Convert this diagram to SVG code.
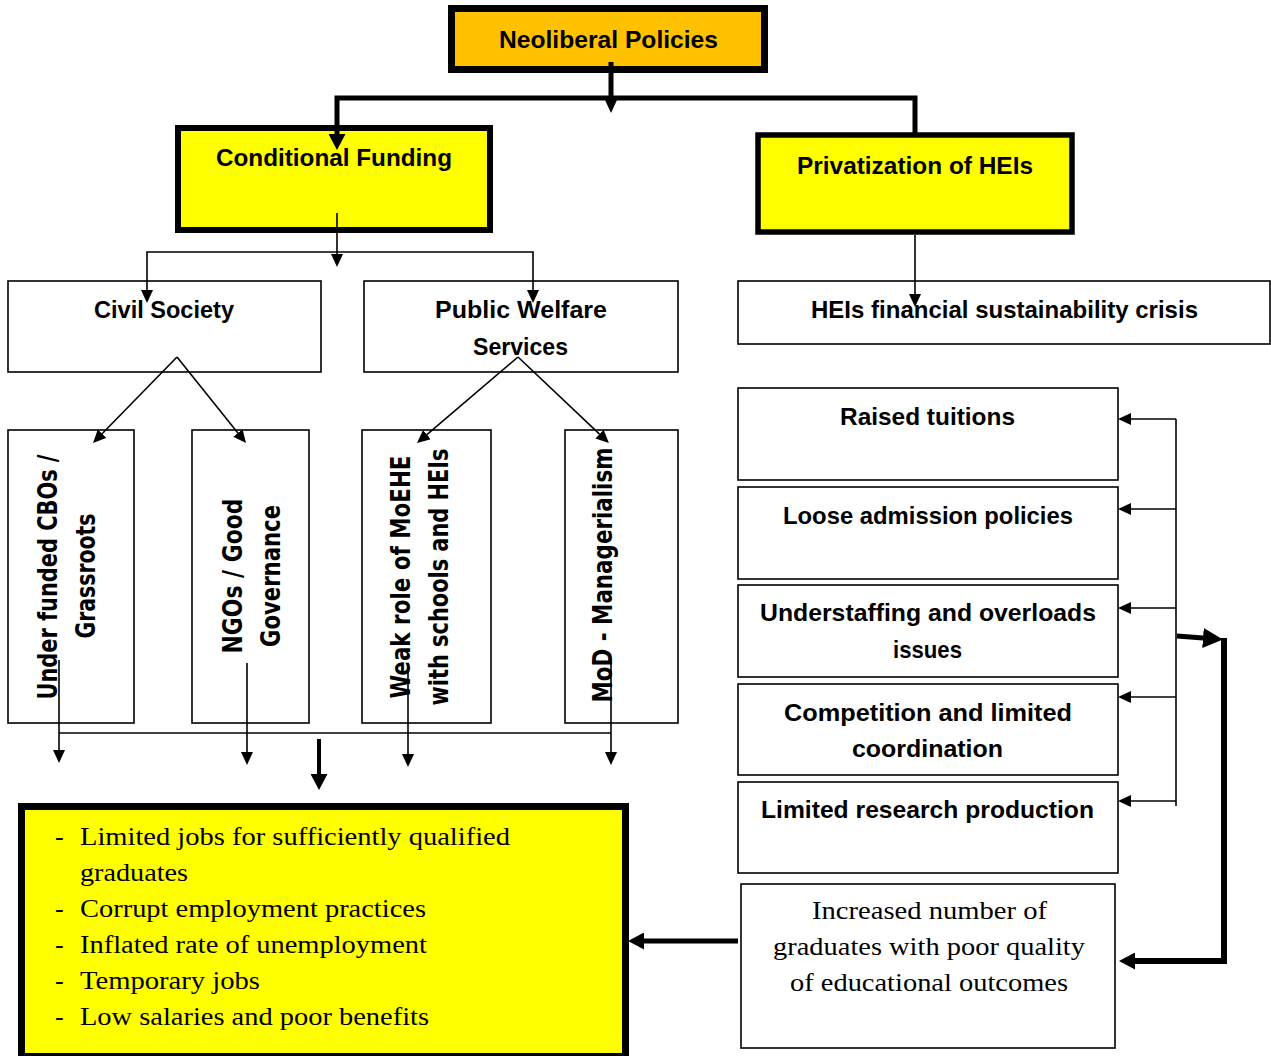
<svg xmlns="http://www.w3.org/2000/svg" width="1271" height="1056" viewBox="0 0 1271 1056">
<style>
.thin{fill:#fff;stroke:#000;stroke-width:1.6}
.y{fill:#ffff00;stroke:#000}
.h{font-family:"Liberation Sans",Arial,sans-serif;font-weight:bold;font-size:24px;fill:#000;text-anchor:middle}
.v{font-family:"DejaVu Sans",Verdana,sans-serif;font-weight:bold;font-size:26px;fill:#000;text-anchor:middle}
.s{font-family:"Liberation Serif","Times New Roman",serif;font-size:26px;fill:#000}
.sc{text-anchor:middle}
.c{fill:none;stroke:#000;stroke-linejoin:miter}
.c1{stroke-width:1.6}
.c5{stroke-width:5}
</style>
<defs>
<marker id="aS" markerUnits="userSpaceOnUse" markerWidth="13" markerHeight="12" refX="0" refY="6" orient="auto"><path d="M0,0 L13,6 L0,12 z" fill="#000"/></marker>
<marker id="aM" markerUnits="userSpaceOnUse" markerWidth="16" markerHeight="17" refX="0" refY="8.5" orient="auto"><path d="M0,0 L16,8.5 L0,17 z" fill="#000"/></marker>
<marker id="aL" markerUnits="userSpaceOnUse" markerWidth="20" markerHeight="20" refX="0" refY="10" orient="auto"><path d="M0,0 L20,10 L0,20 z" fill="#000"/></marker>
</defs>

<g id="n-neoliberal">
<rect x="451.5" y="8.5" width="313" height="61" fill="#ffc000" stroke="#000" stroke-width="7"/>
<text class="h" x="608.5" y="48" textLength="219" lengthAdjust="spacingAndGlyphs">Neoliberal Policies</text>
</g>
<g id="n-conditional">
<rect class="y" x="178" y="128" width="312" height="102" stroke-width="6"/>
<text class="h" x="334" y="166" textLength="236" lengthAdjust="spacingAndGlyphs">Conditional Funding</text>
</g>
<g id="n-privatization">
<rect class="y" x="758" y="135" width="314" height="97" stroke-width="5.5"/>
<text class="h" x="915" y="174" textLength="236" lengthAdjust="spacingAndGlyphs">Privatization of HEIs</text>
</g>
<g id="n-civil">
<rect class="thin" x="8" y="281" width="313" height="91"/>
<text class="h" x="164" y="318" textLength="140" lengthAdjust="spacingAndGlyphs">Civil Society</text>
</g>
<g id="n-public">
<rect class="thin" x="364" y="281" width="314" height="91"/>
<text class="h" x="521" y="318" textLength="172" lengthAdjust="spacingAndGlyphs">Public Welfare</text>
<text class="h" x="520.5" y="355" textLength="95" lengthAdjust="spacingAndGlyphs">Services</text>
</g>
<g id="n-crisis">
<rect class="thin" x="738" y="281" width="532" height="63"/>
<text class="h" x="1004.5" y="318" textLength="387" lengthAdjust="spacingAndGlyphs">HEIs financial sustainability crisis</text>
</g>
<g id="n-cbos">
<rect class="thin" x="8" y="430" width="126" height="293"/>
<text class="v" transform="translate(57,577) rotate(-90)" textLength="245" lengthAdjust="spacingAndGlyphs">Under funded CBOs /</text>
<text class="v" transform="translate(95,576) rotate(-90)" textLength="125" lengthAdjust="spacingAndGlyphs">Grassroots</text>
</g>
<g id="n-ngos">
<rect class="thin" x="192" y="430" width="117" height="293"/>
<text class="v" transform="translate(242,576) rotate(-90)" textLength="155" lengthAdjust="spacingAndGlyphs">NGOs / Good</text>
<text class="v" transform="translate(280,576) rotate(-90)" textLength="142" lengthAdjust="spacingAndGlyphs">Governance</text>
</g>
<g id="n-moehe">
<rect class="thin" x="362" y="430" width="129" height="293"/>
<text class="v" transform="translate(410,577) rotate(-90)" textLength="243" lengthAdjust="spacingAndGlyphs">Weak role of MoEHE</text>
<text class="v" transform="translate(448,577) rotate(-90)" textLength="257" lengthAdjust="spacingAndGlyphs">with schools and HEIs</text>
</g>
<g id="n-mod">
<rect class="thin" x="565" y="430" width="113" height="293"/>
<text class="v" transform="translate(612,575) rotate(-90)" textLength="255" lengthAdjust="spacingAndGlyphs">MoD - Managerialism</text>
</g>
<g id="n-tuitions">
<rect class="thin" x="738" y="388" width="380" height="92"/>
<text class="h" x="927.5" y="425" textLength="175" lengthAdjust="spacingAndGlyphs">Raised tuitions</text>
</g>
<g id="n-admission">
<rect class="thin" x="738" y="487" width="380" height="92"/>
<text class="h" x="928" y="524" textLength="290" lengthAdjust="spacingAndGlyphs">Loose admission policies</text>
</g>
<g id="n-understaffing">
<rect class="thin" x="738" y="585" width="380" height="92"/>
<text class="h" x="928" y="621" textLength="336" lengthAdjust="spacingAndGlyphs">Understaffing and overloads</text>
<text class="h" x="927.5" y="658" textLength="69" lengthAdjust="spacingAndGlyphs">issues</text>
</g>
<g id="n-competition">
<rect class="thin" x="738" y="684" width="380" height="91"/>
<text class="h" x="928" y="721" textLength="288" lengthAdjust="spacingAndGlyphs">Competition and limited</text>
<text class="h" x="927.5" y="757" textLength="151" lengthAdjust="spacingAndGlyphs">coordination</text>
</g>
<g id="n-research">
<rect class="thin" x="738" y="782" width="380" height="91"/>
<text class="h" x="927.5" y="818" textLength="333" lengthAdjust="spacingAndGlyphs">Limited research production</text>
</g>
<g id="n-graduates">
<rect class="thin" x="741" y="884" width="374" height="164"/>
<text class="s sc" x="929.5" y="919" textLength="235" lengthAdjust="spacingAndGlyphs">Increased number of</text>
<text class="s sc" x="929" y="955" textLength="312" lengthAdjust="spacingAndGlyphs">graduates with poor quality</text>
<text class="s sc" x="929" y="991" textLength="278" lengthAdjust="spacingAndGlyphs">of educational outcomes</text>
</g>
<g id="n-outcomes">
<rect class="y" x="21.5" y="806.5" width="604" height="250" stroke-width="7"/>
<text class="s" x="55" y="845">-</text>
<text class="s" x="80" y="845" textLength="430" lengthAdjust="spacingAndGlyphs">Limited jobs for sufficiently qualified</text>
<text class="s" x="80" y="881" textLength="108" lengthAdjust="spacingAndGlyphs">graduates</text>
<text class="s" x="55" y="917">-</text>
<text class="s" x="80" y="917" textLength="346" lengthAdjust="spacingAndGlyphs">Corrupt employment practices</text>
<text class="s" x="55" y="953">-</text>
<text class="s" x="80" y="953" textLength="347" lengthAdjust="spacingAndGlyphs">Inflated rate of unemployment</text>
<text class="s" x="55" y="989">-</text>
<text class="s" x="80" y="989" textLength="180" lengthAdjust="spacingAndGlyphs">Temporary jobs</text>
<text class="s" x="55" y="1025">-</text>
<text class="s" x="80" y="1025" textLength="349" lengthAdjust="spacingAndGlyphs">Low salaries and poor benefits</text>
</g>

<g id="connectors">
<path class="c c5" d="M611,62 V100" marker-end="url(#aS)"/>
<path class="c c5" d="M915,133 V98 H337 V134" marker-end="url(#aM)"/>
<path class="c c1" d="M337,213 V254" marker-end="url(#aS)"/>
<path class="c c1" d="M337,252 H147 V290" marker-end="url(#aS)"/>
<path class="c c1" d="M337,252 H533 V290" marker-end="url(#aS)"/>
<path class="c c1" d="M177,357 L102.1,433.7" marker-end="url(#aS)"/>
<path class="c c1" d="M177,357 L237.9,432.9" marker-end="url(#aS)"/>
<path class="c c1" d="M518,357 L426.9,434.6" marker-end="url(#aS)"/>
<path class="c c1" d="M518,357 L599.5,434.1" marker-end="url(#aS)"/>
<path class="c c1" d="M59,660 V750" marker-end="url(#aS)"/>
<path class="c c1" d="M247,663 V752" marker-end="url(#aS)"/>
<path class="c c1" d="M408,667 V754" marker-end="url(#aS)"/>
<path class="c c1" d="M611,663 V752" marker-end="url(#aS)"/>
<path class="c c1" d="M59,733 H611"/>
<path class="c" stroke-width="4" d="M319,739 V774" marker-end="url(#aM)"/>
<path class="c c1" d="M915,235 V294" marker-end="url(#aS)"/>
<path class="c c1" d="M1176,419 V806"/>
<path class="c c1" d="M1176,419 H1131" marker-end="url(#aS)"/>
<path class="c c1" d="M1176,509 H1131" marker-end="url(#aS)"/>
<path class="c c1" d="M1176,608 H1131" marker-end="url(#aS)"/>
<path class="c c1" d="M1176,697 H1131" marker-end="url(#aS)"/>
<path class="c c1" d="M1176,801 H1131" marker-end="url(#aS)"/>
<path class="c c5" d="M1177,636 L1203,638" marker-end="url(#aL)"/>
<path class="c" stroke-width="6" d="M1224,638 V961 H1135" marker-end="url(#aM)"/>
<path class="c c5" d="M738,941 H644" marker-end="url(#aM)"/>
</g>
</svg>
